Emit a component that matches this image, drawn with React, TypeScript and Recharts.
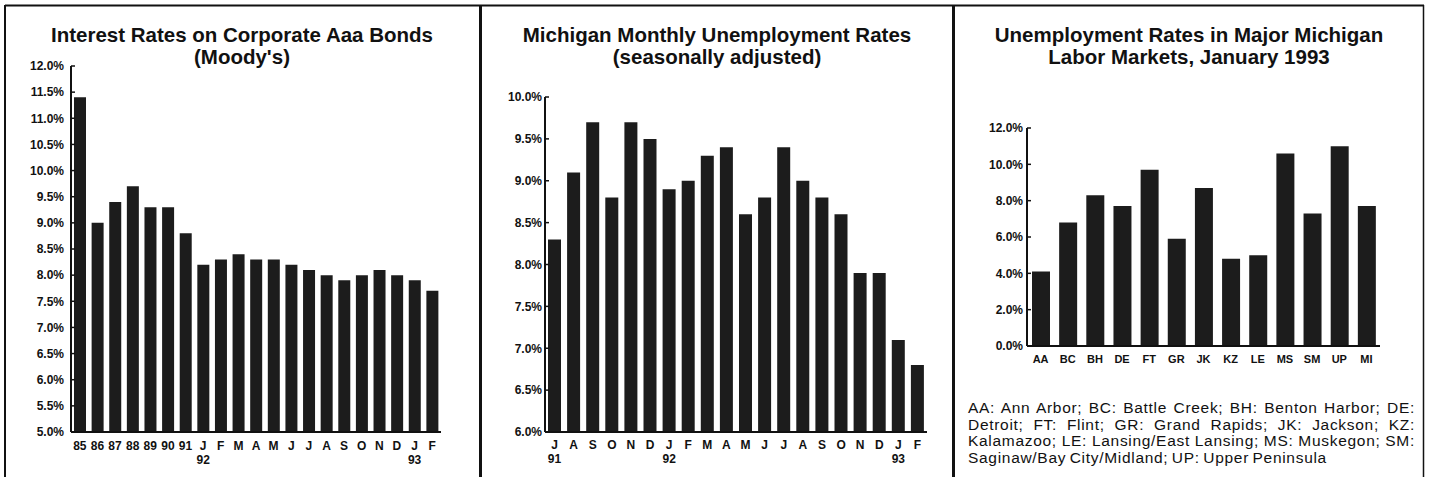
import React from 'react';
import { BarChart, Bar, XAxis, YAxis } from 'recharts';

const FONT = '"Liberation Sans", Arial, Helvetica, sans-serif';
const INK = '#111111';
const BAR = '#1c1c1c';

// Panel 1: Interest Rates on Corporate Aaa Bonds (Moody's)
const bondCategories = ['85', '86', '87', '88', '89', '90', '91', 'J', 'F', 'M', 'A', 'M', 'J', 'J', 'A', 'S', 'O', 'N', 'D', 'J', 'F'];
const bondYearMarks = ['', '', '', '', '', '', '', '92', '', '', '', '', '', '', '', '', '', '', '', '93', ''];
const bondRates = [11.4, 9.0, 9.4, 9.7, 9.3, 9.3, 8.8, 8.2, 8.3, 8.4, 8.3, 8.3, 8.2, 8.1, 8.0, 7.9, 8.0, 8.1, 8.0, 7.9, 7.7];
const bondTicks = [5.0, 5.5, 6.0, 6.5, 7.0, 7.5, 8.0, 8.5, 9.0, 9.5, 10.0, 10.5, 11.0, 11.5, 12.0];

// Panel 2: Michigan Monthly Unemployment Rates
const miMonths = ['J', 'A', 'S', 'O', 'N', 'D', 'J', 'F', 'M', 'A', 'M', 'J', 'J', 'A', 'S', 'O', 'N', 'D', 'J', 'F'];
const miYearMarks = ['91', '', '', '', '', '', '92', '', '', '', '', '', '', '', '', '', '', '', '93', ''];
const miRates = [8.3, 9.1, 9.7, 8.8, 9.7, 9.5, 8.9, 9.0, 9.3, 9.4, 8.6, 8.8, 9.4, 9.0, 8.8, 8.6, 7.9, 7.9, 7.1, 6.8];
const miTicks = [6.0, 6.5, 7.0, 7.5, 8.0, 8.5, 9.0, 9.5, 10.0];

// Panel 3: Unemployment Rates in Major Michigan Labor Markets, January 1993
const marketCodes = ['AA', 'BC', 'BH', 'DE', 'FT', 'GR', 'JK', 'KZ', 'LE', 'MS', 'SM', 'UP', 'MI'];
const marketRates = [4.1, 6.8, 8.3, 7.7, 9.7, 5.9, 8.7, 4.8, 5.0, 10.6, 7.3, 11.0, 7.7];
const marketTicks = [0, 2, 4, 6, 8, 10, 12];

const legendLines = [
  'AA: Ann Arbor; BC: Battle Creek; BH: Benton Harbor; DE:',
  'Detroit; FT: Flint; GR: Grand Rapids; JK: Jackson; KZ:',
  'Kalamazoo; LE: Lansing/East Lansing; MS: Muskegon; SM:',
  'Saginaw/Bay City/Midland; UP: Upper Peninsula',
];

const bondData = bondCategories.map((c, i) => ({ name: c, value: bondRates[i] }));
const miData = miMonths.map((c, i) => ({ name: c, value: miRates[i] }));
const marketData = marketCodes.map((c, i) => ({ name: c, value: marketRates[i] }));

const pct = (v: number) => `${v.toFixed(1)}%`;

const makeTick = (subs: string[], d1: number, d2: number, fs: number) => (props: any) => {
  const { x, y, payload, index } = props;
  const sub = subs[index];
  return (
    <g>
      <text x={x} y={y + d1} textAnchor="middle" fontSize={fs} fontWeight="bold" fill={INK} fontFamily={FONT}>
        {payload.value}
      </text>
      {sub ? (
        <text x={x} y={y + d2} textAnchor="middle" fontSize={fs} fontWeight="bold" fill={INK} fontFamily={FONT}>
          {sub}
        </text>
      ) : null}
    </g>
  );
};

const yTickStyle = { fontSize: 12, fill: INK, fontFamily: FONT, fontWeight: 'bold' as const };

const titles = [
  { x: 242, lines: ['Interest Rates on Corporate Aaa Bonds', "(Moody's)"] },
  { x: 717, lines: ['Michigan Monthly Unemployment Rates', '(seasonally adjusted)'] },
  { x: 1189, lines: ['Unemployment Rates in Major Michigan', 'Labor Markets, January 1993'] },
];

export default function App() {
  return (
    <div style={{ position: 'absolute', left: 0, top: 0, width: 1429, height: 477, background: '#fff', overflow: 'hidden' }}>
      {/* Panel 1 */}
      <div style={{ position: 'absolute', left: 0, top: 0 }}>
        <BarChart width={478} height={477} data={bondData} margin={{ top: 66, right: 37, bottom: 15, left: 6 }}>
          <YAxis
            type="number"
            domain={[5, 12]}
            ticks={bondTicks}
            interval={0}
            width={65}
            tickFormatter={pct}
            tick={yTickStyle}
            axisLine={{ stroke: INK, strokeWidth: 2 }}
            tickLine={{ stroke: INK, strokeWidth: 1.5 }}
            tickSize={-4}
            tickMargin={11}
          />
          <XAxis
            dataKey="name"
            interval={0}
            height={30}
            tickLine={false}
            tickSize={0}
            tickMargin={0}
            axisLine={{ stroke: INK, strokeWidth: 2 }}
            tick={makeTick(bondYearMarks, 18, 32, 12)}
          />
          <Bar dataKey="value" fill={BAR} barSize={12} isAnimationActive={false} />
        </BarChart>
      </div>

      {/* Panel 2 */}
      <div style={{ position: 'absolute', left: 481, top: 0 }}>
        <BarChart width={472} height={477} data={miData} margin={{ top: 97, right: 26, bottom: 15, left: 4 }}>
          <YAxis
            type="number"
            domain={[6, 10]}
            ticks={miTicks}
            interval={0}
            width={60}
            tickFormatter={pct}
            tick={yTickStyle}
            axisLine={{ stroke: INK, strokeWidth: 2 }}
            tickLine={{ stroke: INK, strokeWidth: 1.5 }}
            tickSize={-4}
            tickMargin={7}
          />
          <XAxis
            dataKey="name"
            interval={0}
            height={30}
            tickLine={false}
            tickSize={0}
            tickMargin={0}
            axisLine={{ stroke: INK, strokeWidth: 2 }}
            tick={makeTick(miYearMarks, 16.5, 30.5, 12)}
          />
          <Bar dataKey="value" fill={BAR} barSize={13} isAnimationActive={false} />
        </BarChart>
      </div>

      {/* Panel 3 */}
      <div style={{ position: 'absolute', left: 953, top: 0 }}>
        <BarChart width={471} height={380} data={marketData} margin={{ top: 128, right: 44, bottom: 4, left: 6 }}>
          <YAxis
            type="number"
            domain={[0, 12]}
            ticks={marketTicks}
            interval={0}
            width={68}
            tickFormatter={pct}
            tick={yTickStyle}
            axisLine={{ stroke: INK, strokeWidth: 2 }}
            tickLine={{ stroke: INK, strokeWidth: 1.5 }}
            tickSize={-4}
            tickMargin={8}
          />
          <XAxis
            dataKey="name"
            interval={0}
            height={30}
            tickLine={false}
            tickSize={0}
            tickMargin={0}
            axisLine={{ stroke: INK, strokeWidth: 2 }}
            tick={makeTick([], 17, 30, 11)}
          />
          <Bar dataKey="value" fill={BAR} barSize={18} isAnimationActive={false} />
        </BarChart>
      </div>

      {/* Frames and titles */}
      <svg width={1429} height={477} style={{ position: 'absolute', left: 0, top: 0, pointerEvents: 'none' }}>
        <line x1={5} y1={5.5} x2={1424} y2={5.5} stroke={INK} strokeWidth={2} />
        <line x1={5} y1={5} x2={5} y2={477} stroke={INK} strokeWidth={2} />
        <line x1={480.5} y1={5} x2={480.5} y2={477} stroke={INK} strokeWidth={3} />
        <line x1={953.5} y1={5} x2={953.5} y2={477} stroke={INK} strokeWidth={3} />
        <line x1={1423.5} y1={5} x2={1423.5} y2={477} stroke={INK} strokeWidth={1.5} />
        {titles.map((t, i) => (
          <g key={i}>
            {t.lines.map((ln, j) => (
              <text
                key={j}
                x={t.x}
                y={42 + j * 22}
                textAnchor="middle"
                fontFamily={FONT}
                fontWeight="bold"
                fontSize={20.5}
                fill={INK}
              >
                {ln}
              </text>
            ))}
          </g>
        ))}
      </svg>

      {/* Legend note for panel 3 */}
      <div
        style={{
          position: 'absolute',
          left: 968,
          top: 400,
          width: 447,
          fontFamily: FONT,
          fontSize: 15.5,
          lineHeight: '16.7px',
          letterSpacing: 0.7,
          wordSpacing: -1.5,
          color: INK,
        }}
      >
        {legendLines.map((ln, i) => (
          <div
            key={i}
            style={{
              whiteSpace: 'nowrap',
              textAlign: 'justify',
              textAlignLast: i < legendLines.length - 1 ? 'justify' : 'left',
            }}
          >
            {ln}
          </div>
        ))}
      </div>
    </div>
  );
}
